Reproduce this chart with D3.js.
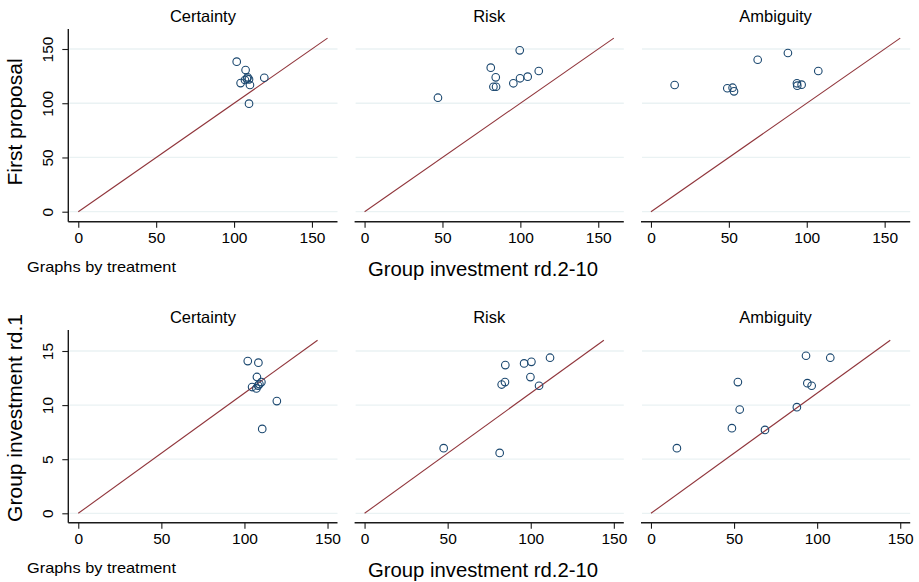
<!DOCTYPE html>
<html><head><meta charset="utf-8">
<script src="https://cdn.jsdelivr.net/npm/d3@7"></script>
<style>
body{margin:0;background:#fff}
svg{display:block}
text{font-family:"Liberation Sans",Arial,Helvetica,sans-serif;fill:#000}
</style></head>
<body><svg id="c" width="919" height="582"></svg>
<script>
// ---------- data ----------
const treatments = ["Certainty", "Risk", "Ambiguity"];
const xTicks = [0, 50, 100, 150];
const yTicksTop = [0, 50, 100, 150];
const yTicksBottom = [0, 5, 10, 15];

// top row: group investment rd.2-10 vs first proposal
const certaintyInvTop = [101.7, 107.4, 108.7, 107.0, 109.6, 104.2, 110.2, 119.4, 109.6, 108.3];
const certaintyFirst  = [138.3, 130.6, 123.9, 121.4, 122.0, 118.6, 116.8, 123.5, 99.6, 122.6];
const riskInvTop      = [47.1, 81.0, 84.2, 82.7, 84.4, 95.5, 99.8, 104.7, 111.8, 99.6];
const riskFirst       = [105.1, 132.8, 123.9, 115.2, 115.2, 118.4, 123.0, 124.5, 129.7, 148.8];
const ambigInvTop     = [15.2, 49.0, 52.4, 53.3, 68.5, 87.9, 93.7, 93.9, 96.7, 107.4];
const ambigFirst      = [116.8, 113.8, 114.3, 111.0, 140.1, 146.3, 118.4, 116.2, 117.1, 129.7];

// bottom row: group investment rd.2-10 vs group investment rd.1
const certaintyInvBot = [102.0, 108.4, 107.5, 104.6, 107.2, 109.0, 110.2, 108.2, 119.5, 110.7];
const certaintyRd1    = [14.07, 13.92, 12.6, 11.67, 11.54, 11.94, 12.13, 11.8, 10.37, 7.8];
const riskInvBot      = [47.6, 81.3, 82.5, 84.5, 84.7, 96.0, 100.4, 99.8, 105.0, 111.6];
const riskRd1         = [6.02, 5.58, 11.9, 12.13, 13.7, 13.85, 14.0, 12.59, 11.79, 14.38];
const ambigInvBot     = [15.6, 48.7, 52.3, 53.4, 68.6, 87.8, 93.3, 94.1, 96.7, 107.9];
const ambigRd1        = [6.02, 7.87, 12.13, 9.59, 7.71, 9.81, 14.56, 12.03, 11.79, 14.38];

// reference lines
const diagTop = [[0, 0], [160, 160]];
const diagBottom = [[0, 0], [144, 16]];

// ---------- layout ----------
const svg = d3.select("#c");
const panelOffset = [0, 286.3, 572.7];
const rows = [
  { xs: [certaintyInvTop, riskInvTop, ambigInvTop], ys: [certaintyFirst, riskFirst, ambigFirst],
    xDomain: [-6.4, 166.4], yDomain: [0, 150], yRange: [211.7, 49], yTicks: yTicksTop,
    axisY: 221.7, plotTop: 29, diag: diagTop, yTitle: "First proposal", yTitleC: 122, dy: 0 },
  { xs: [certaintyInvBot, riskInvBot, ambigInvBot], ys: [certaintyRd1, riskRd1, ambigRd1],
    xDomain: [-6, 156], yDomain: [0, 15], yRange: [513.3, 351], yTicks: yTicksBottom,
    axisY: 522.7, plotTop: 330, diag: diagBottom, yTitle: "Group investment rd.1", yTitleC: 418, dy: 301 }
];

const gridCol = "#eaf2f3", axisCol = "#1a1a1a", markCol = "#1a476f", lineCol = "#90353b";

rows.forEach(row => {
  const y = d3.scaleLinear().domain(row.yDomain).range(row.yRange);
  treatments.forEach((t, i) => {
    const left = 68.3 + panelOffset[i], right = 337.5 + panelOffset[i];
    const x = d3.scaleLinear().domain(row.xDomain).range([left, right]);
    const g = svg.append("g");

    // gridlines
    g.selectAll("line.grid").data(row.yTicks).enter().append("line")
      .attr("x1", left + 1).attr("x2", right)
      .attr("y1", d => y(d)).attr("y2", d => y(d))
      .attr("stroke", gridCol).attr("stroke-width", 1.3);

    // x axis
    const xa = g.append("g").attr("transform", `translate(0,${row.axisY})`)
      .call(d3.axisBottom(x).tickValues(xTicks).tickSize(6).tickPadding(4).tickFormat(d3.format("d")));
    xa.select(".domain").attr("stroke", axisCol).attr("stroke-width", 1.4)
      .attr("d", `M${left},0H${right}`);
    xa.selectAll(".tick line").attr("stroke", axisCol).attr("stroke-width", 1.1);
    xa.selectAll(".tick text").attr("font-size", 15.5).attr("fill", "#000")
      .attr("font-family", '"Liberation Sans",Arial,sans-serif');

    // y axis only on the first panel
    if (i === 0) {
      const ya = g.append("g").attr("transform", `translate(${left},0)`)
        .call(d3.axisLeft(y).tickValues(row.yTicks).tickSize(6).tickFormat(d3.format("d")));
      ya.select(".domain").attr("stroke", axisCol).attr("stroke-width", 1.4)
        .attr("d", `M0,${row.plotTop}V${row.axisY}`);
      ya.selectAll(".tick line").attr("stroke", axisCol).attr("stroke-width", 1.1);
      ya.selectAll(".tick text").attr("font-size", 15.5).attr("fill", "#000")
        .attr("font-family", '"Liberation Sans",Arial,sans-serif')
        .attr("text-anchor", "middle").attr("x", 0).attr("dy", 0)
        .attr("transform", "translate(-15,0) rotate(-90)");
      svg.append("text").text(row.yTitle)
        .attr("transform", `translate(22,${row.yTitleC}) rotate(-90)`)
        .attr("text-anchor", "middle").attr("font-size", 21);
    }

    // reference line
    g.append("path").datum(row.diag)
      .attr("d", d3.line().x(d => x(d[0])).y(d => y(d[1])))
      .attr("fill", "none").attr("stroke", lineCol).attr("stroke-width", 1.1);

    // points
    const pts = d3.zip(row.xs[i], row.ys[i]);
    g.selectAll("circle").data(pts).enter().append("circle")
      .attr("cx", d => x(d[0])).attr("cy", d => y(d[1])).attr("r", 3.8)
      .attr("fill", "none").attr("stroke", markCol).attr("stroke-width", 1.1);

    // panel title
    svg.append("text").text(t)
      .attr("x", (left + right) / 2).attr("y", 22 + row.dy)
      .attr("text-anchor", "middle").attr("font-size", 16.5);
  });

  svg.append("text").text("Group investment rd.2-10")
    .attr("x", 483).attr("y", 276 + row.dy).attr("text-anchor", "middle").attr("font-size", 20)
    .attr("textLength", 230).attr("lengthAdjust", "spacingAndGlyphs");
  svg.append("text").text("Graphs by treatment")
    .attr("x", 27).attr("y", 272 + row.dy).attr("font-size", 14.5)
    .attr("textLength", 149).attr("lengthAdjust", "spacingAndGlyphs");
});
</script>
</body></html>
